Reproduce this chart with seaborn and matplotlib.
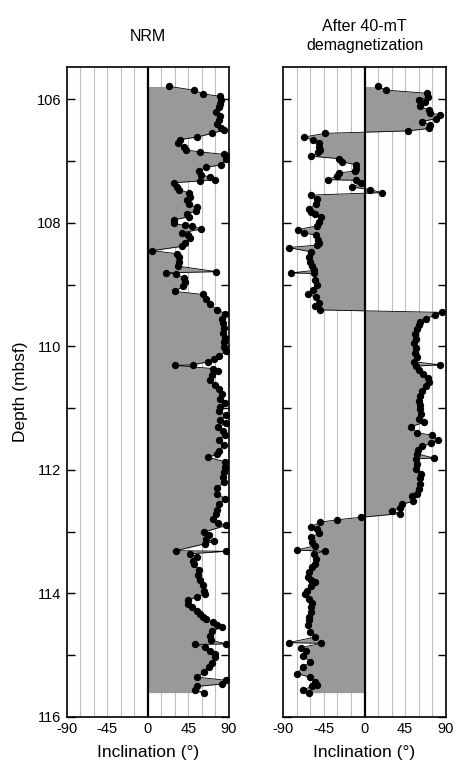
import numpy as np
import pandas as pd
import seaborn as sns
import matplotlib.pyplot as plt

# NRM inclination vs depth
nrm_depth = [105.79, 105.85, 105.91, 105.95, 106.01, 106.08, 106.13, 106.21, 106.27, 106.34,
             106.40, 106.47, 106.50, 106.55, 106.61, 106.65, 106.71, 106.77, 106.82, 106.85,
             106.89, 106.92, 106.97, 107.06, 107.10, 107.16, 107.22, 107.26, 107.30, 107.32,
             107.35, 107.42, 107.46, 107.52, 107.58, 107.63, 107.70, 107.75, 107.81, 107.85,
             107.90, 107.95, 108.01, 108.04, 108.05, 108.10, 108.16, 108.20, 108.25, 108.32,
             108.38, 108.45, 108.50, 108.55, 108.63, 108.70, 108.79, 108.81, 108.83, 108.89,
             108.96, 109.03, 109.11, 109.16, 109.24, 109.32, 109.41, 109.47, 109.55, 109.62,
             109.70, 109.79, 109.86, 109.93, 110.01, 110.07, 110.16, 110.20, 110.25, 110.30,
             110.31, 110.36, 110.40, 110.47, 110.55, 110.62, 110.69, 110.77, 110.85, 110.92,
             110.98, 111.05, 111.12, 111.19, 111.24, 111.31, 111.37, 111.44, 111.51, 111.60,
             111.69, 111.74, 111.80, 111.87, 111.95, 112.04, 112.12, 112.20, 112.30, 112.39,
             112.47, 112.56, 112.65, 112.71, 112.79, 112.86, 112.90, 113.01, 113.05, 113.12,
             113.16, 113.20, 113.31, 113.32, 113.36, 113.42, 113.47, 113.52, 113.62, 113.71,
             113.79, 113.87, 113.96, 114.01, 114.06, 114.11, 114.17, 114.23, 114.28, 114.34,
             114.38, 114.42, 114.47, 114.51, 114.55, 114.61, 114.69, 114.76, 114.82, 114.83,
             114.87, 114.93, 114.98, 115.04, 115.13, 115.20, 115.28, 115.36, 115.41, 115.47,
             115.51, 115.56, 115.61]
nrm_inc = [24, 51, 61, 80, 81, 80, 79, 76, 80, 79,
           77, 81, 84, 71, 55, 36, 33, 40, 42, 58,
           84, 88, 87, 81, 65, 57, 59, 69, 74, 58,
           29, 32, 35, 46, 47, 43, 46, 54, 53, 43,
           46, 29, 29, 41, 49, 59, 38, 45, 47, 41,
           38, 5, 32, 35, 35, 33, 76, 20, 31, 40,
           41, 39, 30, 61, 65, 69, 77, 86, 82, 83,
           84, 83, 86, 84, 84, 87, 79, 73, 67, 50,
           30, 72, 78, 71, 69, 74, 79, 82, 80, 86,
           80, 79, 87, 80, 87, 78, 83, 86, 79, 84,
           79, 77, 67, 86, 86, 84, 83, 84, 77, 77,
           86, 79, 77, 76, 72, 78, 87, 62, 68, 64,
           73, 63, 31, 87, 47, 55, 50, 51, 57, 56,
           58, 61, 62, 63, 54, 45, 44, 49, 54, 58,
           61, 65, 72, 77, 82, 71, 69, 70, 87, 52,
           63, 69, 74, 75, 71, 68, 62, 55, 87, 82,
           54, 52, 62]

# After 40-mT AF demagnetization
af_depth = [105.79, 105.85, 105.90, 105.96, 106.01, 106.05, 106.11, 106.17, 106.22, 106.25,
            106.31, 106.36, 106.42, 106.47, 106.51, 106.55, 106.61, 106.66, 106.70, 106.77,
            106.82, 106.86, 106.92, 106.96, 107.01, 107.06, 107.12, 107.16, 107.19, 107.24,
            107.30, 107.31, 107.36, 107.42, 107.46, 107.51, 107.55, 107.61, 107.69, 107.77,
            107.82, 107.86, 107.90, 107.98, 108.05, 108.11, 108.16, 108.20, 108.27, 108.32,
            108.36, 108.40, 108.47, 108.55, 108.63, 108.70, 108.77, 108.81, 108.82, 108.92,
            109.00, 109.08, 109.16, 109.20, 109.30, 109.35, 109.41, 109.45, 109.50, 109.55,
            109.60, 109.65, 109.72, 109.80, 109.88, 109.95, 110.02, 110.10, 110.18, 110.25,
            110.30, 110.32, 110.38, 110.45, 110.52, 110.58, 110.65, 110.72, 110.80, 110.88,
            110.95, 111.02, 111.10, 111.17, 111.23, 111.30, 111.40, 111.44, 111.51, 111.57,
            111.62, 111.68, 111.74, 111.81, 111.82, 111.90, 111.98, 112.06, 112.14, 112.23,
            112.31, 112.40, 112.42, 112.51, 112.56, 112.62, 112.66, 112.71, 112.77, 112.81,
            112.85, 112.92, 112.96, 113.03, 113.09, 113.17, 113.23, 113.30, 113.32, 113.36,
            113.44, 113.52, 113.58, 113.66, 113.73, 113.78, 113.82, 113.88, 113.96, 114.01,
            114.09, 114.15, 114.23, 114.31, 114.39, 114.44, 114.52, 114.62, 114.71, 114.80,
            114.81, 114.88, 114.93, 115.02, 115.11, 115.19, 115.30, 115.36, 115.44, 115.49,
            115.51, 115.56, 115.61]
af_inc = [15, 24, 69, 70, 60, 67, 61, 71, 73, 84,
          79, 64, 73, 72, 48, -44, -67, -57, -50, -50,
          -49, -52, -59, -28, -25, -9, -9, -10, -28, -30,
          -41, -9, -4, -14, 6, 19, -59, -53, -54, -61,
          -59, -55, -48, -51, -53, -74, -67, -54, -52, -50,
          -53, -84, -59, -61, -60, -58, -56, -81, -56, -55,
          -53, -57, -63, -54, -51, -55, -49, 86, 78, 68,
          62, 60, 58, 56, 57, 55, 57, 56, 58, 55,
          84, 57, 60, 65, 70, 72, 68, 64, 62, 60,
          62, 61, 63, 60, 66, 52, 58, 75, 81, 74,
          64, 59, 58, 77, 57, 58, 57, 63, 62, 61,
          60, 58, 53, 54, 41, 39, 30, 39, -4, -31,
          -49, -59, -53, -51, -59, -58, -55, -75, -44, -56,
          -54, -55, -58, -62, -63, -59, -55, -59, -64, -66,
          -61, -58, -59, -59, -61, -62, -63, -60, -55, -84,
          -48, -70, -65, -68, -60, -68, -75, -60, -55, -53,
          -58, -68, -62]

panels = [("NRM", nrm_depth, nrm_inc),
          ("After 40-mT\ndemagnetization", af_depth, af_inc)]

sns.set_style("ticks")
plt.rcParams['font.family'] = ['Liberation Sans', 'DejaVu Sans']
plt.rcParams['axes.unicode_minus'] = False
for key in ['text.color', 'axes.labelcolor', 'xtick.color', 'ytick.color', 'axes.edgecolor']:
    plt.rcParams[key] = 'black'

fig = plt.figure(figsize=(4.58, 7.71), dpi=100)
ax1 = fig.add_axes([0.1456, 0.0704, 0.3544, 0.8423])
ax2 = fig.add_axes([0.6186, 0.0704, 0.3546, 0.8423])

for ax, (title, depth, inc) in zip([ax1, ax2], panels):
    df = pd.DataFrame({'depth': depth, 'inc': inc})

    for g in range(-75, 90, 15):
        if g != 0:
            ax.axvline(g, color='#bdbdbd', lw=0.8, zorder=0)

    ax.fill_betweenx(df['depth'], 0, df['inc'], color='#999999', lw=0, zorder=1)
    ax.axvline(0, color='black', lw=1.6, zorder=2)
    sns.lineplot(data=df, x='inc', y='depth', sort=False, estimator=None, orient='y',
                 color='black', lw=0.6, ax=ax, zorder=3)
    sns.scatterplot(data=df, x='inc', y='depth', color='black', s=28, linewidth=0,
                    ax=ax, zorder=4)

    ax.set_xlim(-90, 90)
    ax.set_ylim(116, 105.48)
    ax.set_xticks([-90, -45, 0, 45, 90])
    ax.set_yticks(np.arange(106, 117, 1))
    ax.tick_params(axis='y', direction='in', length=6, width=1, left=True, right=True,
                   labelsize=10.5, pad=4)
    ax.tick_params(axis='x', direction='in', length=0, labelsize=10.5, pad=4)
    for sp in ax.spines.values():
        sp.set_linewidth(1.2)
        sp.set_color('black')
        sp.set_visible(True)
    ax.set_xlabel('Inclination (°)', fontsize=12.5, labelpad=6)
    ax.set_ylabel('')
    ax.text(0.5, 1.048, title, transform=ax.transAxes, ha='center', va='center',
            fontsize=11.5, linespacing=1.35)

ax1.set_yticklabels(['106', '', '108', '', '110', '', '112', '', '114', '', '116'])
ax2.set_yticklabels([])
ax1.set_ylabel('Depth (mbsf)', fontsize=12.5, labelpad=6)

fig.savefig('out.png', dpi=100)
